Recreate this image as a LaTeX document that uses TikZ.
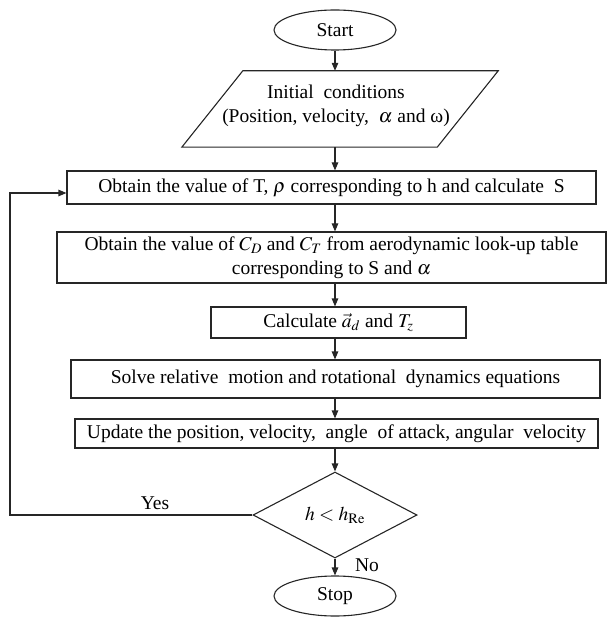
\documentclass[tikz,border=0pt]{standalone}
\usepackage{mathptmx}
\usepackage{fontspec}
\setmainfont{Liberation Serif}
\usetikzlibrary{arrows.meta,shapes.geometric}
\begin{document}
\begin{tikzpicture}[x=1pt,y=-1pt,
  line/.style={draw=black!85, line width=1.1pt},
  arr/.style={line, -{Triangle[length=8pt,width=6.5pt]}},
  txt/.style={font=\fontsize{19.5}{24}\selectfont},
  box/.style={line, txt, rectangle, inner sep=0pt, align=center},
  term/.style={line, txt, ellipse, inner sep=0pt, minimum width=122pt, minimum height=40pt},
  dec/.style={line, txt, diamond, inner sep=0pt, minimum width=164pt, minimum height=86pt}]
\useasboundingbox (0,0) rectangle (609,617);
\coordinate (axis) at (335,0);
\coordinate (fbl) at (10,0);

\node[term] (start) at (335,30) {Start};
\node[txt, align=center, inner sep=0pt, minimum width=255pt, minimum height=76pt] (para) at (340,109) {};
\node[txt, align=center] (paratext) at (336,106) {Initial\ \ conditions\\(Position, velocity,\ \ $\alpha$ and ω)};
\draw[line] ([xshift=30.5pt]para.north west) -- ([xshift=30.5pt]para.north east)
  -- ([xshift=-30.5pt]para.south east) -- ([xshift=-30.5pt]para.south west) -- cycle;

\node[box, minimum width=529pt, minimum height=33pt] (b1) at (331.5,187.5)
  {Obtain the value of T, $\rho$ corresponding to h and calculate\ \ S};
\node[box, minimum width=549pt, minimum height=51pt] (b2) at (331.5,257.5)
  {Obtain the value of $C_D$ and $C_T$ from aerodynamic look-up table\\corresponding to S and $\alpha$};
\node[box, minimum width=255pt, minimum height=31pt] (b3) at (338.5,322.5)
  {Calculate $\vec{a}_d$ and $T_z$};
\node[box, minimum width=529pt, minimum height=38pt] (b4) at (335.5,379)
  {Solve relative\ \ motion and rotational\ \ dynamics equations};
\node[box, minimum width=523pt, minimum height=29pt] (b5) at (336.5,433.5)
  {Update the position, velocity,\ \ angle\ \ of attack, angular\ \ velocity};
\node[dec] (dia) at (335,515) {$h<h_{\mathrm{Re}}$};
\node[term] (stop) at (335,596) {Stop};

\node[txt] (yes) at (155,503) {Yes};
\node[txt] (no) at (367,565) {No};

\draw[arr] (start) -- (axis |- para.north);
\draw[arr] (axis |- para.south) -- (axis |- b1.north);
\draw[arr] (axis |- b1.south) -- (axis |- b2.north);
\draw[arr] (axis |- b2.south) -- (axis |- b3.north);
\draw[arr] (axis |- b3.south) -- (axis |- b4.north);
\draw[arr] (axis |- b4.south) -- (axis |- b5.north);
\draw[arr] (axis |- b5.south) -- (dia.north);
\draw[arr] (dia.south) -- (stop);
\coordinate (fbin) at ([yshift=-5.5pt]b1.west);
\draw[arr] (dia.west) -- (fbl |- dia.west) -- (fbl |- fbin) -- (fbin);
\end{tikzpicture}
\end{document}
